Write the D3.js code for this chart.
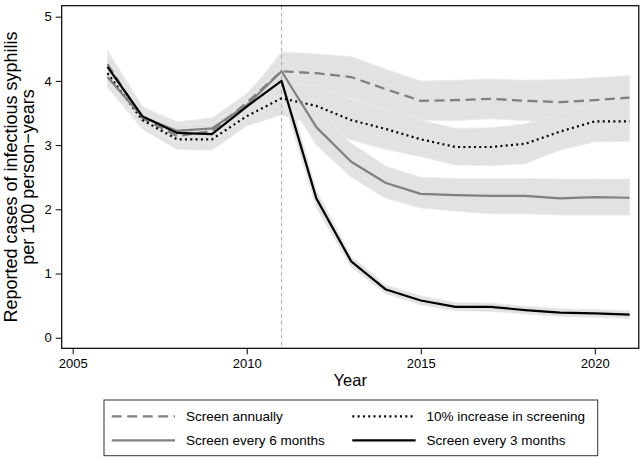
<!DOCTYPE html>
<html>
<head>
<meta charset="utf-8">
<script src="https://cdn.jsdelivr.net/npm/d3@7"></script>
<style>
  body { margin: 0; background: #fff; }
  svg { display: block; font-family: "Liberation Sans", Arial, Helvetica, sans-serif; }
  .axis text { font-size: 13px; fill: #000; }
  .axis line { stroke: #000; }
  .axis-label { fill: #000; }
  .legend text { font-size: 13.5px; fill: #000; }
</style>
</head>
<body>
<svg id="chart"></svg>
<script>
// data
const years = [2006, 2007, 2008, 2009, 2010, 2011, 2012, 2013, 2014, 2015, 2016, 2017, 2018, 2019, 2020, 2021];

const annual      = [4.26, 3.42, 3.14, 3.22, 3.66, 4.15, 4.12, 4.06, 3.87, 3.69, 3.70, 3.72, 3.69, 3.67, 3.70, 3.74];
const annualLo    = [3.95, 3.30, 2.98, 3.05, 3.45, 3.82, 3.80, 3.73, 3.53, 3.39, 3.38, 3.41, 3.38, 3.36, 3.38, 3.42];
const annualHi    = [4.48, 3.60, 3.36, 3.42, 3.76, 4.45, 4.42, 4.38, 4.18, 4.00, 4.01, 4.03, 4.01, 4.02, 4.05, 4.08];

const increase    = [4.12, 3.39, 3.09, 3.09, 3.45, 3.73, 3.61, 3.39, 3.25, 3.09, 2.97, 2.97, 3.02, 3.21, 3.37, 3.37];
const increaseLo  = [3.90, 3.25, 2.93, 2.92, 3.30, 3.47, 3.30, 3.08, 2.93, 2.82, 2.69, 2.68, 2.71, 2.92, 3.05, 3.06];
const increaseHi  = [4.30, 3.55, 3.28, 3.30, 3.65, 4.00, 3.92, 3.72, 3.55, 3.39, 3.26, 3.27, 3.33, 3.50, 3.66, 3.68];

const sixMonth    = [4.06, 3.44, 3.22, 3.26, 3.62, 4.15, 3.28, 2.74, 2.41, 2.24, 2.22, 2.21, 2.21, 2.17, 2.19, 2.18];
const sixMonthLo  = [3.90, 3.30, 3.03, 3.08, 3.40, 3.85, 3.00, 2.50, 2.17, 2.02, 1.97, 1.93, 1.93, 1.91, 1.91, 1.91];
const sixMonthHi  = [4.35, 3.58, 3.36, 3.42, 3.80, 4.40, 3.60, 3.03, 2.67, 2.50, 2.48, 2.48, 2.48, 2.47, 2.47, 2.47];

const threeMonth   = [4.22, 3.45, 3.19, 3.17, 3.60, 4.00, 2.17, 1.19, 0.75, 0.58, 0.48, 0.48, 0.43, 0.39, 0.38, 0.36];
const threeMonthLo = [3.95, 3.30, 3.05, 3.02, 3.45, 3.80, 2.02, 1.10, 0.68, 0.51, 0.42, 0.41, 0.37, 0.33, 0.32, 0.30];
const threeMonthHi = [4.45, 3.60, 3.32, 3.32, 3.72, 4.20, 2.30, 1.27, 0.82, 0.65, 0.55, 0.54, 0.49, 0.45, 0.44, 0.42];

const xTicks = [2005, 2010, 2015, 2020];
const yTicks = [0, 1, 2, 3, 4, 5];
const interventionYear = 2011;

const seriesNames = ['Screen annually', '10% increase in screening', 'Screen every 6 months', 'Screen every 3 months'];

class ScenarioChart {

  constructor(_config, _series) {
    this.config = {
      parentElement: _config.parentElement,
      containerWidth: _config.containerWidth || 643,
      containerHeight: _config.containerHeight || 459,
      margin: { top: 5.7, bottom: 110.7, right: 4.2, left: 61.7 }
    };
    this.series = _series;
    this.initVis();
  }

  initVis() {
    let vis = this;

    vis.width = vis.config.containerWidth - vis.config.margin.left - vis.config.margin.right;
    vis.height = vis.config.containerHeight - vis.config.margin.top - vis.config.margin.bottom;

    vis.svg = d3.select(vis.config.parentElement)
        .attr('width', vis.config.containerWidth)
        .attr('height', vis.config.containerHeight);

    vis.chart = vis.svg.append('g')
        .attr('transform', `translate(${vis.config.margin.left},${vis.config.margin.top})`);

    // padded domains like the base-graphics original
    vis.xScale = d3.scaleLinear()
        .domain([2004.684, 2021.264])
        .range([0, vis.width]);

    vis.yScale = d3.scaleLinear()
        .domain([-0.165, 5.171])
        .range([vis.height, 0]);

    vis.xAxis = d3.axisBottom(vis.xScale)
        .tickValues(xTicks)
        .tickFormat(d3.format('d'))
        .tickSize(6)
        .tickPadding(4)
        .tickSizeOuter(0);

    vis.yAxis = d3.axisLeft(vis.yScale)
        .tickValues(yTicks)
        .tickFormat(d3.format('d'))
        .tickSize(6)
        .tickPadding(4)
        .tickSizeOuter(0);

    vis.renderVis();
  }

  renderVis() {
    let vis = this;

    let area = d3.area()
        .x((d, i) => vis.xScale(years[i]))
        .y0(d => vis.yScale(d[0]))
        .y1(d => vis.yScale(d[1]));

    let line = d3.line()
        .x((d, i) => vis.xScale(years[i]))
        .y(d => vis.yScale(d));

    // confidence bands first
    vis.chart.selectAll('.band')
        .data(vis.series)
      .join('path')
        .attr('class', 'band')
        .attr('d', s => area(s.lo.map((v, i) => [v, s.hi[i]])))
        .attr('fill', '#e2e2e2')
        .attr('stroke', '#ebebeb')
        .attr('stroke-width', 0.8);

    // intervention marker
    vis.chart.append('line')
        .attr('x1', vis.xScale(interventionYear))
        .attr('x2', vis.xScale(interventionYear))
        .attr('y1', 0)
        .attr('y2', vis.height)
        .attr('stroke', '#aaaaaa')
        .attr('stroke-width', 1)
        .attr('stroke-dasharray', '4,3');

    vis.chart.selectAll('.scenario')
        .data(vis.series)
      .join('path')
        .attr('class', 'scenario')
        .attr('d', s => line(s.values))
        .attr('fill', 'none')
        .attr('stroke', s => s.color)
        .attr('stroke-width', s => s.width)
        .attr('stroke-dasharray', s => s.dash)
        .attr('stroke-linejoin', 'round');

    vis.chart.append('g')
        .attr('class', 'axis x-axis')
        .attr('transform', `translate(0,${vis.height})`)
        .call(vis.xAxis)
        .call(g => g.select('.domain').remove());

    vis.chart.append('g')
        .attr('class', 'axis y-axis')
        .call(vis.yAxis)
        .call(g => g.select('.domain').remove());

    // plot frame
    vis.chart.append('rect')
        .attr('width', vis.width)
        .attr('height', vis.height)
        .attr('fill', 'none')
        .attr('stroke', '#000')
        .attr('stroke-width', 1.2);

    vis.chart.append('text')
        .attr('class', 'axis-label')
        .attr('x', vis.width / 2)
        .attr('y', vis.height + 37.7)
        .style('text-anchor', 'middle')
        .style('font-size', '16.5px')
        .text('Year');

    let yLabel = vis.chart.append('text')
        .attr('class', 'axis-label')
        .attr('transform', 'rotate(-90)')
        .style('text-anchor', 'middle')
        .style('font-size', '18px');
    yLabel.append('tspan')
        .attr('x', -vis.height / 2)
        .attr('y', 17.3 - vis.config.margin.left)
        .text('Reported cases of infectious syphilis');
    yLabel.append('tspan')
        .attr('x', -vis.height / 2)
        .attr('y', 33.5 - vis.config.margin.left)
        .text('per 100 person\u2212years');

    // legend, two columns
    let legend = vis.svg.append('g')
        .attr('class', 'legend');

    legend.append('rect')
        .attr('x', 104)
        .attr('y', 400)
        .attr('width', 493.7)
        .attr('height', 55.7)
        .attr('fill', '#fff')
        .attr('stroke', '#333')
        .attr('stroke-width', 1);

    let items = legend.selectAll('.legend-item')
        .data(vis.series)
      .join('g')
        .attr('class', 'legend-item')
        .attr('transform', (d, i) => `translate(${i % 2 === 0 ? 111.7 : 352.3},${i < 2 ? 416.3 : 440.3})`);

    items.append('line')
        .attr('x1', 0)
        .attr('x2', 63.3)
        .attr('stroke', d => d.color)
        .attr('stroke-width', d => d.width)
        .attr('stroke-dasharray', d => d.dash);

    items.append('text')
        .attr('x', 74.3)
        .attr('y', 4.8)
        .text(d => d.name);
  }
}

const series = [
  { name: seriesNames[0], values: annual, lo: annualLo, hi: annualHi, color: '#808080', width: 2.3, dash: '10,5.5' },
  { name: seriesNames[1], values: increase, lo: increaseLo, hi: increaseHi, color: '#000', width: 2.2, dash: '2,3.3' },
  { name: seriesNames[2], values: sixMonth, lo: sixMonthLo, hi: sixMonthHi, color: '#808080', width: 2.2, dash: null },
  { name: seriesNames[3], values: threeMonth, lo: threeMonthLo, hi: threeMonthHi, color: '#000', width: 2.2, dash: null }
];

new ScenarioChart({ parentElement: '#chart', containerWidth: 643, containerHeight: 459 }, series);
</script>
</body>
</html>
